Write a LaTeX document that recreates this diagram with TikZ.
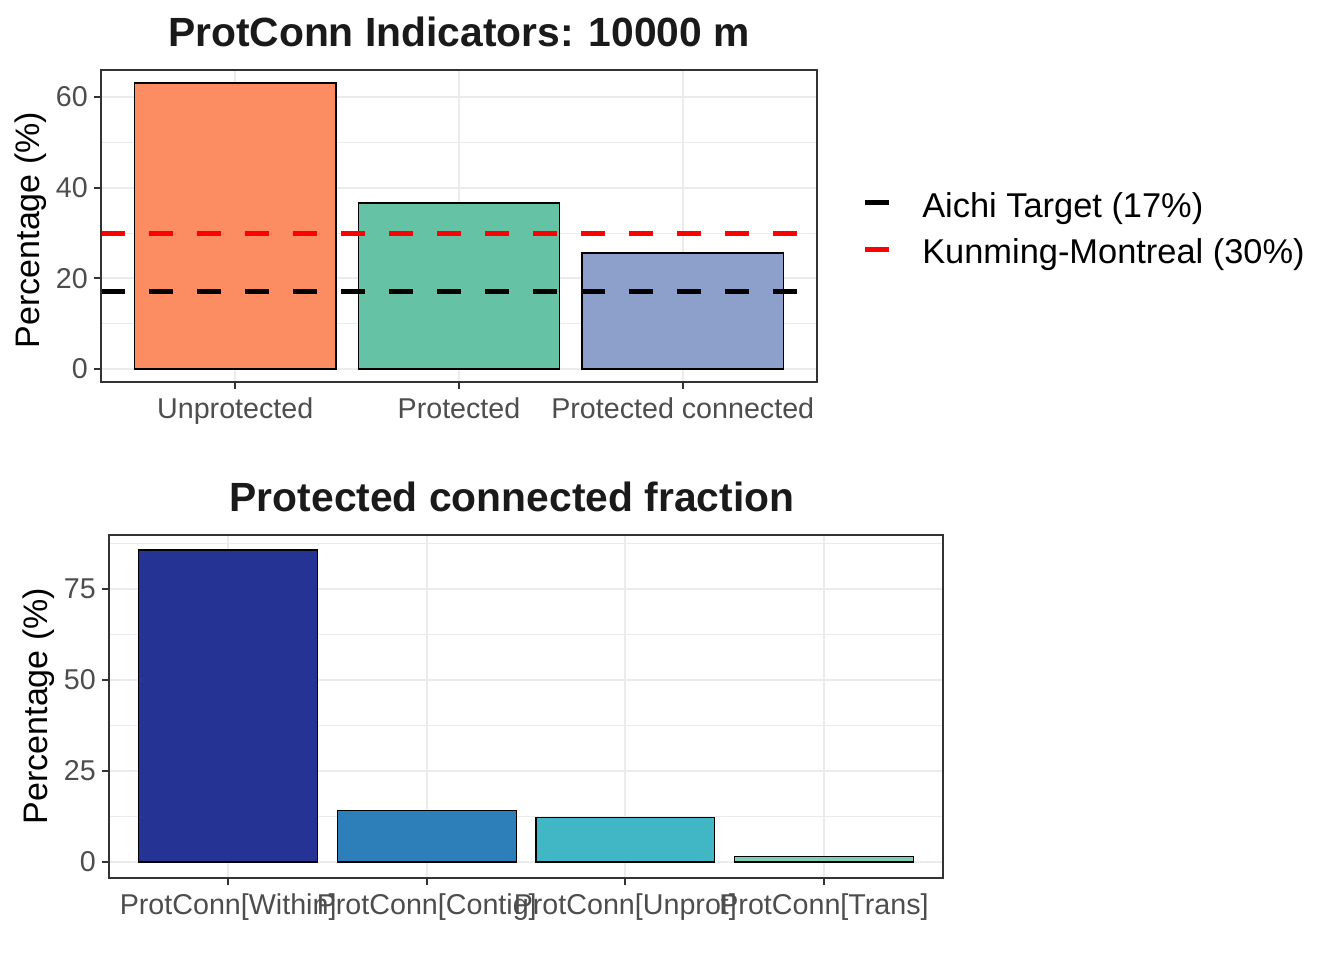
\documentclass[tikz,border=0pt]{standalone}
\usepackage{fontspec}
\setmainfont{Liberation Sans}
\usetikzlibrary{positioning, calc}
\definecolor{gridgray}{HTML}{EBEBEB}
\definecolor{axisgray}{HTML}{333333}
\definecolor{tickgray}{HTML}{4D4D4D}
\definecolor{titlegray}{HTML}{1A1A1A}
\definecolor{unprot}{HTML}{FC8D62}
\definecolor{prot}{HTML}{66C2A5}
\definecolor{protconn}{HTML}{8DA0CB}
\definecolor{within}{HTML}{253494}
\definecolor{contig}{HTML}{2C7FB8}
\definecolor{unprotfrac}{HTML}{41B6C4}
\definecolor{trans}{HTML}{7FCDBB}
\tikzset{
    gridmaj/.style={gridgray, line width=1.5pt},
    gridmin/.style={gridgray, line width=0.75pt},
    panelbox/.style={axisgray, line width=1.5pt},
    tickmark/.style={axisgray, line width=1.5pt},
    bar/.style={draw=black, line width=0.9pt},
    ticklab/.style={text=tickgray, inner sep=0pt, font=\fontsize{21.5}{24}\selectfont},
    axtitle/.style={inner sep=0pt, font=\fontsize{25.5}{28}\selectfont},
    plottitle/.style={inner sep=0pt, text=titlegray, font=\bfseries\fontsize{30.6}{34}\selectfont},
    legtext/.style={inner sep=0pt, font=\fontsize{25.8}{28}\selectfont},
    targetline/.style={line width=3.75pt, dash pattern=on 18pt off 18pt},
    legkey/.style={line width=3.75pt},
}

\begin{document}
\begin{tikzpicture}[x=0.75pt, y=-0.75pt]
    \useasboundingbox (0,0) rectangle (1344,960);
    % top panel
    \begin{scope}[shift={(101,369)}, x=167.81pt, y=3.4pt]
    \def \ymin {-2.87}
    \def \ymax {65.96}
    \def \xmax {3.2}
    \foreach \v in {10,30,50}{
    \draw[gridmin] (0,\v) -- (\xmax,\v);}
    \foreach \v in {0,20,40,60}{
    \draw[gridmaj] (0,\v) -- (\xmax,\v);}
    \foreach \i in {1,2,3}{
    \draw[gridmaj] (\i-0.4,\ymin) -- (\i-0.4,\ymax);}
    \foreach \i/\h/\c in {1/63.1/unprot, 2/36.6/prot, 3/25.6/protconn}{
    \draw[bar, fill=\c] (\i-0.85,0) rectangle (\i+0.05,\h);}
    \coordinate (aichiL) at (0,17);
    \coordinate (aichiR) at (\xmax,17);
    \coordinate (kmL) at (0,30);
    \coordinate (kmR) at (\xmax,30);
    \draw[targetline, black] (aichiL) -- (aichiR);
    \draw[targetline, red] (kmL) -- (kmR);
    \draw[panelbox] (0,\ymin) rectangle (\xmax,\ymax);
    \foreach \v in {0,20,40,60}{
    \draw[tickmark] (0,\v) -- ++(-5.25pt,0);
    \node[ticklab, anchor=east] (ytop\v) at ([xshift=-9.75pt]0,\v) {\v};}
    \foreach \i/\lab in {1/Unprotected, 2/Protected, 3/Protected connected}{
    \draw[tickmark] (\i-0.4,\ymin) -- ++(0,-5.25pt);
    \node[ticklab, anchor=base] (xtop\i) at ([yshift=-27pt]\i-0.4,\ymin) {\lab};}
    \end{scope}
    \node[plottitle, anchor=base] (titletop) at (459,46) {ProtConn Indicators: 10000 m};
    \node[axtitle, rotate=90] (ytitletop) at (31,230) {Percentage (\%)};
    % legend
    \coordinate (keyA) at (865,202.5);
    \coordinate (keyK) at (865,249);
    \draw[legkey, black] (keyA) -- ++(24,0);
    \draw[legkey, red] (keyK) -- ++(24,0);
    \node[legtext, anchor=base west] (legA) at (922,217) {Aichi Target (17\%)};
    \node[legtext, anchor=base west] (legK) at (922,263) {Kunming-Montreal (30\%)};
    % bottom panel
    \begin{scope}[shift={(109,862)}, x=148.95pt, y=2.73pt]
    \def \ymin {-4.4}
    \def \ymax {89.84}
    \def \xmax {4.2}
    \foreach \v in {12.5,37.5,62.5,87.5}{
    \draw[gridmin] (0,\v) -- (\xmax,\v);}
    \foreach \v in {0,25,50,75}{
    \draw[gridmaj] (0,\v) -- (\xmax,\v);}
    \foreach \i in {1,2,3,4}{
    \draw[gridmaj] (\i-0.4,\ymin) -- (\i-0.4,\ymax);}
    \foreach \i/\h/\c in {1/85.7/within, 2/14.2/contig, 3/12.3/unprotfrac, 4/1.5/trans}{
    \draw[bar, fill=\c] (\i-0.85,0) rectangle (\i+0.05,\h);}
    \draw[panelbox] (0,\ymin) rectangle (\xmax,\ymax);
    \foreach \v in {0,25,50,75}{
    \draw[tickmark] (0,\v) -- ++(-5.25pt,0);
    \node[ticklab, anchor=east] (ybot\v) at ([xshift=-9.75pt]0,\v) {\v};}
    \foreach \i/\lab in {1/ProtConn[Within], 2/ProtConn[Contig], 3/ProtConn[Unprot], 4/ProtConn[Trans]}{
    \draw[tickmark] (\i-0.4,\ymin) -- ++(0,-5.25pt);
    \node[ticklab, anchor=base] (xbot\i) at ([yshift=-27pt]\i-0.4,\ymin) {\lab};}
    \end{scope}
    \node[plottitle, anchor=base] (titlebot) at (512,511) {Protected connected fraction};
    \node[axtitle, rotate=90] (ytitlebot) at (39,706) {Percentage (\%)};
\end{tikzpicture}
\end{document}
